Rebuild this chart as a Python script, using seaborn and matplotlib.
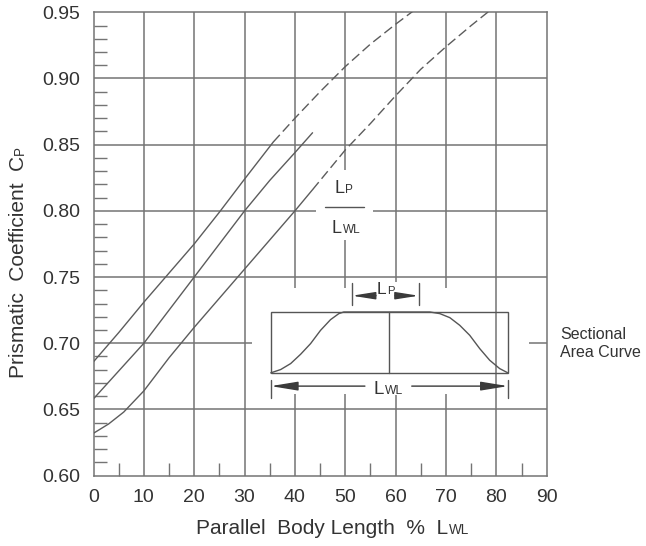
import numpy as np
import pandas as pd
import matplotlib
matplotlib.use("Agg")
import matplotlib.pyplot as plt
from matplotlib.transforms import IdentityTransform
from matplotlib.font_manager import FontProperties
from matplotlib.patches import Rectangle
import seaborn as sns

# ---------------- data ----------------
upper_solid_p = [0, 5, 10, 15, 20, 25, 30, 35.7]
upper_solid_cp = [0.686, 0.708, 0.731, 0.753, 0.775, 0.799, 0.824, 0.852]
upper_dash_p = [35.7, 40, 45, 50, 55, 60, 63.5]
upper_dash_cp = [0.852, 0.870, 0.890, 0.909, 0.926, 0.941, 0.951]
middle_p = [0, 5, 10, 15, 20, 25, 30, 35, 40, 43.5]
middle_cp = [0.658, 0.679, 0.700, 0.725, 0.750, 0.775, 0.800, 0.823, 0.844, 0.859]
lower_solid_p = [0, 3, 6, 10, 15, 20, 25, 30, 35, 40, 43.5]
lower_solid_cp = [0.632, 0.639, 0.648, 0.664, 0.689, 0.712, 0.734, 0.756, 0.778, 0.800, 0.816]
lower_dash_p = [43.5, 50, 55, 60, 65, 70, 75, 78.6]
lower_dash_cp = [0.816, 0.846, 0.866, 0.887, 0.907, 0.924, 0.940, 0.951]

x_ticks = [0, 10, 20, 30, 40, 50, 60, 70, 80, 90]
x_minor = [5, 15, 25, 35, 45, 55, 65, 75, 85]
y_ticks = [0.60, 0.65, 0.70, 0.75, 0.80, 0.85, 0.90, 0.95]
y_tick_labels = ["0.60", "0.65", "0.70", "0.75", "0.80", "0.85", "0.90", "0.95"]
y_minor = [round(0.60 + 0.01 * i, 2) for i in range(36) if i % 5 != 0]

# sectional area curve, normalised to the inset box (u across, v up)
sac_u = [0, 0.042, 0.084, 0.126, 0.168, 0.210, 0.252, 0.287, 0.308,
         0.671, 0.713, 0.755, 0.797, 0.839, 0.881, 0.923, 0.965, 1.0]
sac_v = [0, 0.055, 0.153, 0.306, 0.481, 0.699, 0.874, 0.973, 1.0,
         1.0, 0.973, 0.907, 0.781, 0.617, 0.399, 0.208, 0.071, 0.0]

# ---------------- style ----------------
sns.set_style("white")
FONT = "Liberation Sans"
plt.rcParams["font.family"] = [FONT, "DejaVu Sans"]
TXT = "#333333"
GRID = "#747474"
CURVE = "#5c5c5c"
INSET = "#555555"

W, H, DPI = 646, 546, 100
fig = plt.figure(figsize=(W / DPI, H / DPI), dpi=DPI)
fig.patch.set_facecolor("white")
ax = fig.add_axes([93.5 / W, 1 - 475.6 / H, (546.7 - 93.5) / W, (475.6 - 12.3) / H])
ax.set_xlim(0, 90)
ax.set_ylim(0.60, 0.95)

# ---------------- grid with breaks ----------------
v_grid = {
    10: [(0.60, 0.95)], 20: [(0.60, 0.95)], 30: [(0.60, 0.95)],
    40: [(0.60, 0.662), (0.742, 0.95)],
    50: [(0.60, 0.662), (0.742, 0.778), (0.831, 0.95)],
    60: [(0.60, 0.661), (0.746, 0.95)],
    70: [(0.60, 0.662), (0.742, 0.95)],
    80: [(0.60, 0.95)],
}
h_grid = {
    0.65: [(0, 90)],
    0.70: [(0, 31.5), (86.5, 90)],
    0.75: [(0, 90)],
    0.80: [(0, 44.2), (55.5, 90)],
    0.85: [(0, 90)],
    0.90: [(0, 90)],
}
for xv, segs in v_grid.items():
    for a, b in segs:
        ax.vlines(xv, a, b, color=GRID, lw=1.1, zorder=1)
for yv, segs in h_grid.items():
    for a, b in segs:
        ax.hlines(yv, a, b, color=GRID, lw=1.1, zorder=1)

# ---------------- curves ----------------
segments = [
    ("upper", "solid", upper_solid_p, upper_solid_cp),
    ("upper", "dashed", upper_dash_p, upper_dash_cp),
    ("middle", "solid", middle_p, middle_cp),
    ("lower", "solid", lower_solid_p, lower_solid_cp),
    ("lower", "dashed", lower_dash_p, lower_dash_cp),
]
rows = []
for name, kind, ps, cs in segments:
    for p, c in zip(ps, cs):
        rows.append({"seg": f"{name}-{kind}", "kind": kind, "p": p, "cp": c})
df = pd.DataFrame(rows)
sns.lineplot(data=df, x="p", y="cp", units="seg", style="kind", estimator=None,
             sort=False, color=CURVE, lw=1.0, legend=False, ax=ax,
             dashes={"solid": "", "dashed": (7, 3.2)}, zorder=3)
ax.set_xlabel("")
ax.set_ylabel("")

# ---------------- axes, ticks ----------------
for sp in ax.spines.values():
    sp.set_color(GRID)
    sp.set_linewidth(1.1)
    sp.set_visible(True)
ax.set_xticks(x_ticks)
ax.set_xticklabels([str(v) for v in x_ticks])
ax.set_yticks(y_ticks)
ax.set_yticklabels(y_tick_labels)
ax.set_xticks(x_minor, minor=True)
ax.set_yticks(y_minor, minor=True)
ax.tick_params(which="major", length=0, labelsize=14, labelcolor=TXT)
ax.tick_params(axis="x", which="major", pad=10)
ax.tick_params(axis="y", which="major", pad=9.7)
ax.tick_params(which="minor", direction="in", length=9.2, width=1.0, color=GRID,
               bottom=True, left=True, top=False, right=False)

# ---------------- inset diagram ----------------
BOX_X0, BOX_X1 = 35.2, 82.3
BOX_Y0, BOX_Y1 = 0.6776, 0.7236
BOX_MID = 58.7
ax.add_patch(Rectangle((BOX_X0, BOX_Y0), BOX_X1 - BOX_X0, BOX_Y1 - BOX_Y0,
                       fill=False, ec=INSET, lw=1.0, zorder=4))
ax.plot([BOX_MID, BOX_MID], [BOX_Y0, BOX_Y1], color=INSET, lw=1.0, zorder=4)
sx = [BOX_X0 + u * (BOX_X1 - BOX_X0) for u in sac_u]
sy = [BOX_Y0 + v * (BOX_Y1 - BOX_Y0) for v in sac_v]
sns.lineplot(x=sx, y=sy, sort=False, estimator=None, color=INSET, lw=1.0, ax=ax, zorder=4)

def dim_arrow(tail, tip, y, hl, hw):
    ax.annotate("", xy=(tip, y), xytext=(tail, y),
                arrowprops=dict(arrowstyle=f"-|>,head_length={hl},head_width={hw}",
                                mutation_scale=10, shrinkA=0, shrinkB=0,
                                lw=1.0, color="#3a3a3a"), zorder=5)

# LWL dimension
LWL_Y = 0.6676
for xt in (BOX_X0, BOX_X1):
    ax.plot([xt, xt], [0.6585, 0.6721], color=INSET, lw=1.0, zorder=4)
dim_arrow(53.9, BOX_X0, LWL_Y, 1.65, 0.27)
dim_arrow(63.2, BOX_X1, LWL_Y, 1.65, 0.27)
# LP dimension
LP_Y = 0.7359
LP_X0, LP_X1 = 51.3, 64.6
for xt in (LP_X0, LP_X1):
    ax.plot([xt, xt], [0.7287, 0.7453], color=INSET, lw=1.0, zorder=4)
dim_arrow(56.1, LP_X0, LP_Y, 1.4, 0.22)
dim_arrow(59.9, LP_X1, LP_Y, 1.4, 0.22)
# fraction bar
ax.plot([46.0, 53.7], [0.8032, 0.8032], color=INSET, lw=1.0, zorder=4)

# ---------------- rich text helper ----------------
fig.canvas.draw()
renderer = fig.canvas.get_renderer()
SMALL = 0.65

def piece_width(s, size):
    fp = FontProperties(family=FONT, size=size)
    w, h, d = renderer.get_text_width_height_descent(s, fp, ismath=False)
    return w

def rich(px, py, pieces, size, ha="left", rotation=0, vcenter=False):
    """px, py: display coords of anchor (baseline unless vcenter)."""
    sizes = [size if not small else size * SMALL for _, small in pieces]
    widths = [piece_width(s, sz) + (1.0 if i < len(pieces) - 1 else 0)
              for i, ((s, _), sz) in enumerate(zip(pieces, sizes))]
    total = sum(widths)
    start = px - total / 2 if ha == "center" else px
    base = py
    if vcenter:
        base = py - size * 0.716 * DPI / 72 / 2
    pos = start
    for (s, _), sz, w in zip(pieces, sizes, widths):
        if rotation == 0:
            fig.text(pos, base, s, transform=IdentityTransform(), fontsize=sz,
                     color=TXT, ha="left", va="baseline")
        else:
            fig.text(base, pos, s, transform=IdentityTransform(), fontsize=sz,
                     color=TXT, ha="left", va="baseline", rotation=90,
                     rotation_mode="anchor")
        pos += w

def d2p(x, y):
    return ax.transData.transform((x, y))

# axis labels
rich(196, H - 533.5, [("Parallel  Body Length  %  L", False), ("WL", True)], 15)
rich(168, 24, [("Prismatic  Coefficient  C", False), ("P", True)], 15, rotation=90)

# fraction label
x, y = d2p(49.7, 0.8135)
rich(x, y, [("L", False), ("P", True)], 13, ha="center")
x, y = d2p(50.2, 0.7835)
rich(x, y, [("L", False), ("WL", True)], 13, ha="center")
# dimension texts
x, y = d2p(58.0, 0.7417)
rich(x, y, [("L", False), ("P", True)], 12.5, ha="center", vcenter=True)
x, y = d2p(58.6, 0.6665)
rich(x, y, [("L", False), ("WL", True)], 13.5, ha="center", vcenter=True)

# side note
fig.text(560, H - 343.5, "Sectional\nArea Curve", transform=IdentityTransform(),
         fontsize=11.5, color=TXT, ha="left", va="center", linespacing=1.3)

fig.savefig("out.png", dpi=DPI, facecolor="white")
